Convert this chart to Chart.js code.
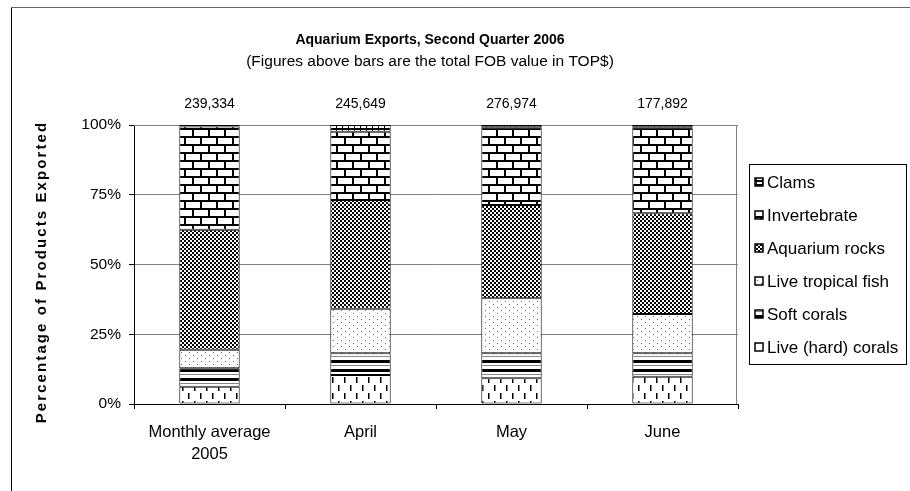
<!DOCTYPE html>
<html>
<head>
<meta charset="utf-8">
<title>Aquarium Exports, Second Quarter 2006</title>
<script src="https://cdn.jsdelivr.net/npm/chart.js@4.4.1/dist/chart.umd.min.js"></script>
<style>
  html, body { margin: 0; padding: 0; background: #fff; }
  #wrap { width: 910px; height: 491px; }
</style>
</head>
<body>
<div id="wrap"><canvas id="exportsChart" width="910" height="491"></canvas></div>
<script>
// Chart data (percent of products exported)
const categories = [["Monthly average", "2005"], "April", "May", "June"];
const totals = ["239,334", "245,649", "276,974", "177,892"];
const yTicks = [0, 25, 50, 75, 100];

const hardCorals = [6.2, 10.4, 9.2, 9.8];
const softCorals = [6.6, 7.8, 9.0, 8.4];
const tropicalFish = [6.6, 15.9, 19.7, 14.1];
const aquariumRocks = [43.1, 39.0, 33.4, 36.1];
const invertebrate = [37.0, 24.5, 27.9, 30.8];
const clams = [0.5, 2.4, 0.8, 0.8];

const FONT = "'Liberation Sans', Arial, sans-serif";

// Utility: build a small repeating fill pattern
function makePattern(w, h, draw) {
  const c = document.createElement("canvas");
  c.width = w;
  c.height = h;
  const g = c.getContext("2d");
  g.fillStyle = "#fff";
  g.fillRect(0, 0, w, h);
  g.fillStyle = "#000";
  draw(g);
  return g.createPattern(c, "repeat");
}

const patterns = {
  hard: makePattern(12, 16, (g) => {
    g.fillRect(2, 1, 1.5, 6);
    g.fillRect(8, 9, 1.5, 6);
  }),
  soft: makePattern(4, 9, (g) => {
    g.fillRect(0, 0, 4, 3);
    g.fillStyle = "#888";
    g.fillRect(0, 5, 4, 1);
  }),
  fish: makePattern(8, 6, (g) => {
    g.fillStyle = "#666";
    g.fillRect(1, 1, 1, 1);
    g.fillRect(5, 4, 1, 1);
  }),
  rocks: makePattern(4, 4, (g) => {
    g.fillRect(0, 0, 2, 2);
    g.fillRect(2, 2, 2, 2);
  }),
  invert: makePattern(16, 16, (g) => {
    g.fillRect(0, 0, 16, 2);
    g.fillRect(0, 0, 2, 8);
    g.fillRect(0, 8, 16, 2);
    g.fillRect(8, 8, 2, 8);
  }),
  clams: makePattern(6, 4, (g) => {
    g.fillRect(0, 0, 6, 2);
    g.fillRect(0, 2, 1, 2);
  }),
};

function series(label, data, fill) {
  return {
    label,
    data,
    backgroundColor: fill,
    borderColor: "#000",
    borderWidth: 1,
    borderSkipped: false,
    barPercentage: 0.4,
    categoryPercentage: 1.0,
  };
}

// Frame, titles, totals, axis title and legend
const decorPlugin = {
  id: "decor",
  beforeDraw(chart) {
    const ctx = chart.ctx;
    ctx.save();
    ctx.fillStyle = "#fff";
    ctx.fillRect(0, 0, chart.width, chart.height);
    ctx.restore();
  },
  beforeDatasetsDraw(chart) {
    const { ctx, chartArea } = chart;
    ctx.save();
    ctx.strokeStyle = "#808080";
    ctx.lineWidth = 1;
    ctx.beginPath();
    ctx.moveTo(chartArea.left, chartArea.top + 0.5);
    ctx.lineTo(chartArea.right - 1.5, chartArea.top + 0.5);
    ctx.lineTo(chartArea.right - 1.5, chartArea.bottom);
    ctx.stroke();
    ctx.restore();
  },
  afterDraw(chart) {
    const ctx = chart.ctx;
    ctx.save();

    // outer border
    ctx.lineWidth = 1;
    ctx.strokeStyle = "#666";
    ctx.beginPath();
    ctx.moveTo(11.5, 7.5);
    ctx.lineTo(910, 7.5);
    ctx.stroke();
    ctx.strokeStyle = "#000";
    ctx.beginPath();
    ctx.moveTo(11.5, 7.5);
    ctx.lineTo(11.5, 491);
    ctx.stroke();

    // titles
    ctx.fillStyle = "#000";
    ctx.textAlign = "center";
    ctx.textBaseline = "middle";
    ctx.font = "bold 14px " + FONT;
    ctx.fillText("Aquarium Exports, Second Quarter 2006", 430, 40);
    ctx.font = "15.5px " + FONT;
    ctx.fillText("(Figures above bars are the total FOB value in TOP$)", 430, 62);

    // totals above bars
    ctx.font = "14px " + FONT;
    const meta = chart.getDatasetMeta(0);
    meta.data.forEach((bar, i) => {
      ctx.fillText(totals[i], bar.x, 104);
    });

    // y axis title
    ctx.save();
    ctx.translate(42, 272);
    ctx.rotate(-Math.PI / 2);
    ctx.font = "bold 15px " + FONT;
    ctx.letterSpacing = "2.1px";
    ctx.fillText("Percentage of Products Exported", 0, 0);
    ctx.restore();

    // legend (top series first)
    const lx = 749.5, ly = 164.5, lw = 157, lh = 200;
    ctx.strokeStyle = "#000";
    ctx.lineWidth = 1;
    ctx.strokeRect(lx, ly, lw, lh);
    ctx.textAlign = "left";
    ctx.font = "17px " + FONT;
    const sets = chart.data.datasets.slice().reverse();
    sets.forEach((ds, i) => {
      const cy = 182 + i * 33;
      ctx.fillStyle = ds.backgroundColor;
      ctx.fillRect(755, cy - 4, 8, 8);
      ctx.lineWidth = 1.5;
      ctx.strokeStyle = "#000";
      ctx.strokeRect(755, cy - 4, 8, 8);
      ctx.fillStyle = "#000";
      ctx.fillText(ds.label, 767, cy + 1);
    });

    ctx.restore();
  },
};

const ctx = document.getElementById("exportsChart").getContext("2d");

new Chart(ctx, {
  type: "bar",
  data: {
    labels: categories,
    datasets: [
      series("Live (hard) corals", hardCorals, patterns.hard),
      series("Soft corals", softCorals, patterns.soft),
      series("Live tropical fish", tropicalFish, patterns.fish),
      series("Aquarium rocks", aquariumRocks, patterns.rocks),
      series("Invertebrate", invertebrate, patterns.invert),
      series("Clams", clams, patterns.clams),
    ],
  },
  options: {
    responsive: false,
    animation: false,
    layout: {
      padding: { left: 0, right: 172, top: 125, bottom: 0 },
    },
    plugins: {
      legend: { display: false },
      title: { display: false },
      tooltip: { enabled: false },
    },
    scales: {
      x: {
        stacked: true,
        grid: {
          drawOnChartArea: false,
          tickLength: 5,
          tickColor: "#000",
          offset: true,
        },
        border: { color: "#000", width: 1 },
        ticks: {
          color: "#000",
          padding: 12,
          maxRotation: 0,
          font: { family: FONT, size: 16.5, lineHeight: "22px" },
        },
        afterFit(scale) {
          scale.height = 87;
        },
      },
      y: {
        stacked: true,
        min: 0,
        max: 100,
        afterBuildTicks(scale) {
          scale.ticks = yTicks.map((v) => ({ value: v }));
        },
        grid: {
          color: "#808080",
          tickLength: 5,
          tickColor: "#000",
        },
        border: { color: "#000", width: 1 },
        ticks: {
          color: "#000",
          padding: 8,
          font: { family: FONT, size: 15.5 },
          callback: (v) => v + "%",
        },
        afterFit(scale) {
          scale.width = 134;
        },
      },
    },
  },
  plugins: [decorPlugin],
});
</script>
</body>
</html>
